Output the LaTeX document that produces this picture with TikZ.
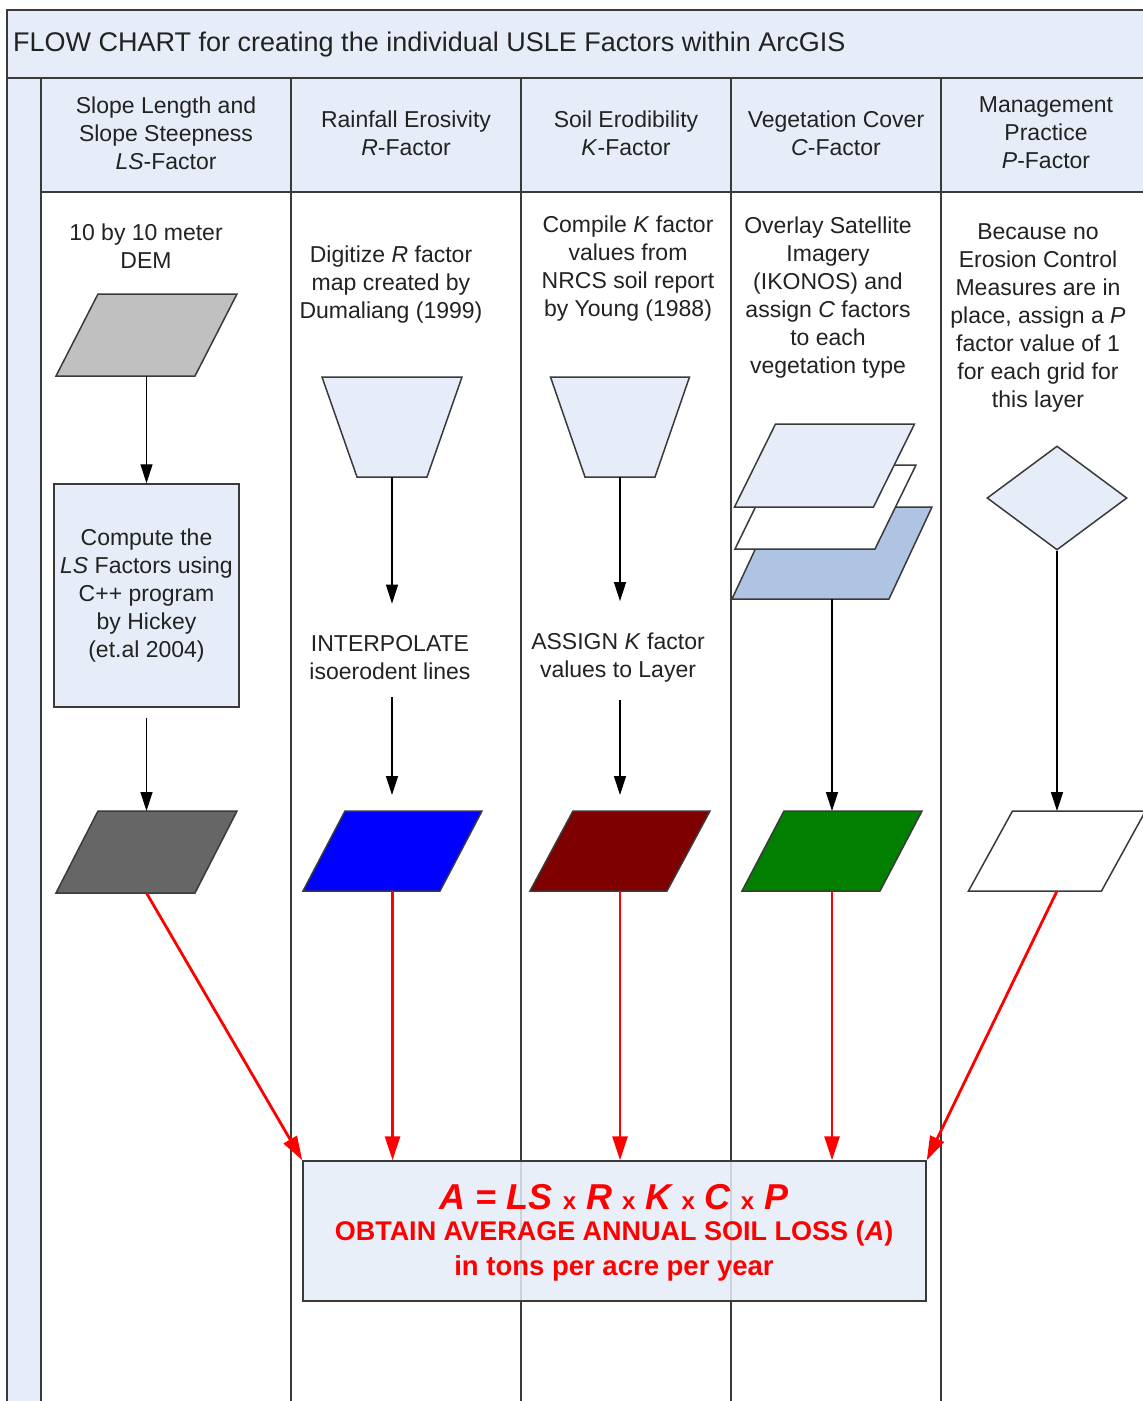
\documentclass[tikz,border=0pt]{standalone}
\usepackage{fontspec}
\setmainfont{Liberation Sans}
\usetikzlibrary{arrows.meta,shapes.geometric}
\definecolor{lb}{HTML}{E6EDF8}
\definecolor{ln}{HTML}{3A3A3A}
\definecolor{txt}{HTML}{222222}
\definecolor{layerblue}{HTML}{AFC4E2}
\definecolor{dgray}{HTML}{666666}
\definecolor{lgray}{HTML}{C0C0C0}
\definecolor{maroonc}{HTML}{7F0000}
\definecolor{dgreen}{HTML}{007F00}
\definecolor{pureblue}{HTML}{0000FF}
\definecolor{purered}{HTML}{FF0000}
\tikzset{
 shp/.style={draw=ln, line width=1.5pt, line join=miter},
 lane/.style={draw=ln, line width=2pt},
 lbl/.style={text=txt, align=center, font=\fontsize{23}{28}\selectfont, inner sep=0},
 arr/.style={draw=black, line width=1.3pt, -{Triangle[length=19pt,width=12pt]}},
 rarr/.style={draw=purered, line width=2.8pt, -{Triangle[length=24pt,width=15pt]}},
 redtxt/.style={text=purered, inner sep=0, font=\bfseries},
}
\newcommand\paragr[7]{%
 \filldraw[shp, fill=#7] ({#2-#4/2+#6},{#3-#5/2}) -- ({#2+#4/2+#6},{#3-#5/2}) -- ({#2+#4/2-#6},{#3+#5/2}) -- ({#2-#4/2-#6},{#3+#5/2}) -- cycle;
 \node[inner sep=0, outer sep=0, minimum width={#4-2*#6}, minimum height={#5}] (#1) at (#2,#3) {};
}
\newcommand\trapz[6]{%
 \filldraw[shp, fill=lb] ({#2-#4/2},{#3-#6/2}) -- ({#2+#4/2},{#3-#6/2}) -- ({#2+#5/2},{#3+#6/2}) -- ({#2-#5/2},{#3+#6/2}) -- cycle;
 \node[inner sep=0, outer sep=0, minimum width={#5}, minimum height={#6}] (#1) at (#2,#3) {};
}
\newcommand\smx{{\fontsize{24}{26}\selectfont\upshape x}}
\begin{document}
\begin{tikzpicture}[x=1pt,y=-1pt]
\useasboundingbox (0,0) rectangle (1143,1401);
\fill[white] (0,0) rectangle (1143,1401);
% title band
\filldraw[fill=lb, lane] (7,10) rectangle (1160,78);
\node[anchor=west, text=txt, font=\fontsize{27}{32}\selectfont, inner sep=0] (title) at (13,45) {FLOW CHART for creating the individual USLE Factors within ArcGIS};
% header row and left band
\filldraw[fill=lb, lane] (41,78) rectangle (1160,192);
\filldraw[fill=lb, lane] (7,78) rectangle (41,1420);
\foreach \x in {291,521,731,941} \draw[lane] (\x,78) -- (\x,1420);
% headers
\node[lbl] (h1) at (166,133) {Slope Length and\\Slope Steepness\\\textit{LS}-Factor};
\node[lbl] (h2) at (406,133) {Rainfall Erosivity\\\textit{R}-Factor};
\node[lbl] (h3) at (626,133) {Soil Erodibility\\\textit{K}-Factor};
\node[lbl] (h4) at (836,133) {Vegetation Cover\\\textit{C}-Factor};
\node[lbl] (h5) at (1046,133) {Management\\Practice\\\textit{P}-Factor};
% column LS
\node[lbl] (demt) at (146,246) {10 by 10 meter\\DEM};
\paragr{dem}{146.5}{335}{139}{82}{21}{lgray}
\node[shp, fill=lb, minimum width=185pt, minimum height=223pt, inner sep=0, align=center, text=txt, font=\fontsize{23}{28}\selectfont] (lsbox) at (146.5,595.5) {Compute the\\\textit{LS} Factors using\\C++ program\\by Hickey\\(et.al 2004)};
\paragr{ls}{146.5}{852}{139}{82}{21}{dgray}
\draw[arr] (dem) -- (lsbox);
\draw[arr, shorten <=10pt] (lsbox) -- (ls);
% column R
\node[lbl] (rt) at (391,285) {Digitize \textit{R} factor\\map created by\\Dumaliang (1999)};
\trapz{rtrap}{392}{427}{140}{70}{100}
\node[lbl] (interp) at (390,658) {INTERPOLATE\\isoerodent lines};
\paragr{rlay}{392.5}{851}{137}{80}{21}{pureblue}
\draw[arr, shorten >=32pt] (rtrap) -- (rtrap.south |- interp.north);
\draw[arr, shorten <=17pt, shorten >=16pt] (rtrap.south |- interp.south) -- (rtrap.south |- rlay.north);
% column K
\node[lbl] (kt) at (628,269) {Compile \textit{K} factor\\values from\\NRCS soil report\\by Young (1988)};
\trapz{ktrap}{620}{427}{139}{70}{100}
\node[lbl] (assign) at (618,658) {ASSIGN \textit{K} factor\\values to Layer};
\paragr{klay}{620}{851}{137}{80}{21.5}{maroonc}
\draw[arr, shorten >=32pt] (ktrap) -- (ktrap.south |- assign.north);
\draw[arr, shorten <=17pt, shorten >=16pt] (ktrap.south |- assign.south) -- (ktrap.south |- klay.north);
% column C
\node[lbl] (ct) at (828,298) {Overlay Satellite\\Imagery\\(IKONOS) and\\assign \textit{C} factors\\to each\\vegetation type};
\paragr{vlay3}{832}{553}{157}{92}{21.5}{layerblue}
\paragr{vlay2}{825.5}{507}{140}{84}{20.5}{white}
\paragr{vlay1}{824.5}{465.5}{139}{83}{20.5}{lb}
\paragr{veg}{832}{851}{138}{80}{21}{dgreen}
\draw[arr] (vlay3.south) -- (vlay3.south |- veg.north);
% column P
\node[lbl] (pt) at (1038,318) {Because no\\Erosion Control\\Measures are in\\place, assign a \textit{P}\\factor value of 1\\for each grid for\\this layer};
\node[diamond, shp, fill=lb, minimum width=140pt, minimum height=104pt, inner sep=0] (dia) at (1057,498) {};
\paragr{play}{1057}{851}{133}{80}{22}{white}
\draw[arr] (dia) -- (play);
% result
\node[shp, fill=lb, fill opacity=0.85, minimum width=623pt, minimum height=140pt, inner sep=0] (res) at (614.5,1231) {};
\node[redtxt] (eq) at (614,1197) {\fontsize{36}{40}\selectfont\itshape A = LS \smx{} R \smx{} K \smx{} C \smx{} P};
\node[redtxt] (obt) at (614,1234) {\fontsize{27}{30}\selectfont OBTAIN AVERAGE ANNUAL SOIL LOSS (\textit{A})};
\node[redtxt] (tons) at (614,1268) {\fontsize{27.5}{30}\selectfont in tons per acre per year};
% red connectors
\draw[rarr] (ls.south) -- (res.north west);
\draw[rarr] (rlay.south) -- (rlay.south |- res.north);
\draw[rarr] (klay.south) -- (klay.south |- res.north);
\draw[rarr] (veg.south) -- (veg.south |- res.north);
\draw[rarr] (play.south) -- (res.north east);
\end{tikzpicture}
\end{document}
